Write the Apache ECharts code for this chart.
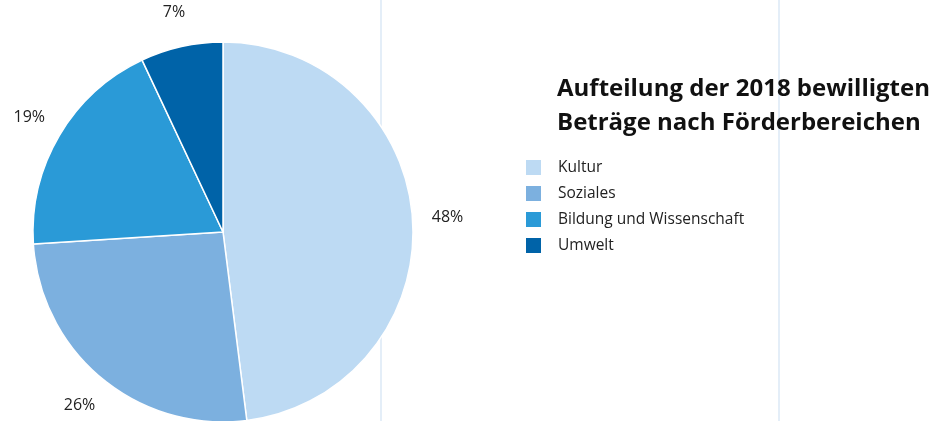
<!DOCTYPE html>
<html>
<head>
<meta charset="utf-8">
<script src="https://cdn.jsdelivr.net/npm/echarts@6/dist/echarts.min.js"></script>
<style>
  html, body { margin: 0; padding: 0; background: #fff; }
  #chart { width: 933px; height: 421px; }
</style>
</head>
<body>
<div id="chart"></div>
<script>
// Förderbereiche 2018, Anteile in Prozent
const categories = ['Kultur', 'Soziales', 'Bildung und Wissenschaft', 'Umwelt']
const shares = [48, 26, 19, 7]
const colors = ['#bddaf3', '#7cb0df', '#2a9ad7', '#0063a8']
const titleText = 'Aufteilung der 2018 bewilligten\nBeträge nach Förderbereichen'

const chart = echarts.init(document.getElementById('chart'))

const pieData = categories.map((name, i) => ({ name: name, value: shares[i] }))

const option = {
    animation: false,
    color: colors,
    title: {
        text: titleText,
        left: 552,
        top: 67,
        textStyle: {
            fontFamily: 'Open Sans',
            fontWeight: 'bold',
            fontSize: 24,
            lineHeight: 34,
            color: '#111'
        }
    },
    legend: {
        orient: 'vertical',
        left: 519,
        top: 153,
        data: categories,
        icon: 'rect',
        itemWidth: 17,
        itemHeight: 17,
        itemGap: 7,
        selectedMode: false,
        textStyle: {
            fontFamily: 'Open Sans',
            fontSize: 15.5,
            lineHeight: 17,
            color: '#222',
            padding: [0, 0, 0, 11]
        }
    },
    // faint vertical guide lines in the background
    grid: { left: 381, right: 154, top: 0, bottom: 0 },
    xAxis: {
        type: 'value', min: 0, max: 1, interval: 1,
        axisLine: { show: false }, axisTick: { show: false }, axisLabel: { show: false },
        splitLine: { lineStyle: { color: '#dbe8f6', width: 1.5 } }
    },
    yAxis: { type: 'value', show: false },
    series: [
        {
            type: 'pie',
            center: [223, 232],
            radius: 190,
            startAngle: 90,
            silent: true,
            data: pieData,
            itemStyle: { borderColor: '#fff', borderWidth: 1.5 },
            label: { show: false },
            labelLine: { show: false }
        },
        {
            // transparent ring only used to put the percent labels around the pie
            type: 'pie',
            center: [223, 232],
            radius: [210, 234],
            startAngle: 90,
            silent: true,
            data: pieData,
            itemStyle: { color: 'rgba(0,0,0,0)' },
            label: {
                show: true,
                position: 'inside',
                formatter: '{c}%',
                fontFamily: 'Open Sans',
                fontSize: 16,
                color: '#222'
            },
            labelLine: { show: false }
        }
    ]
}

chart.setOption(option)
</script>
</body>
</html>
